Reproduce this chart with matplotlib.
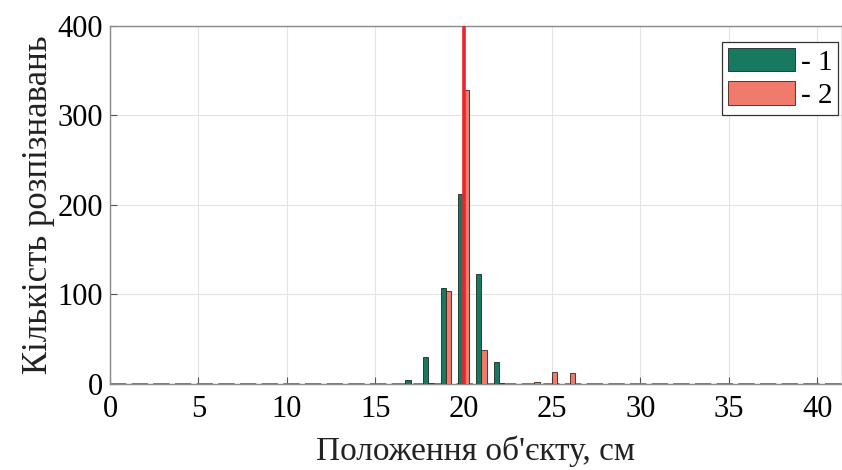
import numpy as np
import matplotlib.pyplot as plt

plt.rcParams['font.family'] = ['Liberation Serif', 'DejaVu Serif']

# Положення (см) та кількість розпізнавань для двох серій
positions = np.array([17, 18, 19, 20, 21, 22, 23, 24, 25, 26])
counts_1 = np.array([4, 30, 107, 212, 123, 25, 0, 0, 0, 0])
counts_2 = np.array([0, 1, 104, 328, 38, 1, 0, 2, 13, 12])
true_pos = 20
labels = ['- 1', '- 2']

green = '#177a60'
salmon = '#f07a6c'

fig = plt.figure(figsize=(8.42, 4.70), dpi=100)
ax = fig.add_axes([0.1306, 0.183, 0.8694, 0.762])

w = 0.3
ax.bar(positions - 0.15, counts_1, width=w, color=green, edgecolor='#1a2a24',
       linewidth=0.6, label=labels[0], zorder=3)
ax.bar(positions + 0.15, counts_2, width=w, color=salmon, edgecolor='#3a2418',
       linewidth=0.6, label=labels[1], zorder=3)

# справжнє положення об'єкта
ax.vlines(true_pos, 0, 450, color='#e8262c', linewidth=2.6, zorder=4)

# базова лінія
ax.axhline(0, color='#6e6e6e', linewidth=1.3, dashes=(9, 3), zorder=2)

ax.set_xlim(0, 41.4)
ax.set_ylim(0, 400)
ax.set_xticks(np.arange(0, 41, 5))
ax.set_yticks(np.arange(0, 401, 100))
ax.grid(True, color='#e3e3e3', linewidth=0.8, zorder=0)
ax.tick_params(direction='in', labelsize=22, length=5, color='#555555')
ax.tick_params(axis='x', pad=8)
ax.tick_params(axis='y', pad=5)
for s in ax.spines.values():
    s.set_color('#8a8a8a')
    s.set_linewidth(1.0)

ax.set_xlabel("Положення об'єкту, см", fontsize=24, color='#222222', labelpad=8)
ax.set_ylabel('Кількість розпізнавань', fontsize=25, color='#222222', labelpad=2)

leg = ax.legend(loc='upper right', bbox_to_anchor=(0.995, 0.955), fontsize=21,
                handlelength=2.3, handleheight=0.85, handletextpad=0.2,
                borderpad=0.2, labelspacing=0.2, borderaxespad=0,
                fancybox=False, framealpha=1)
leg.get_frame().set_edgecolor('#333333')
leg.get_frame().set_linewidth(0.9)

fig.savefig('out.png', dpi=100)
